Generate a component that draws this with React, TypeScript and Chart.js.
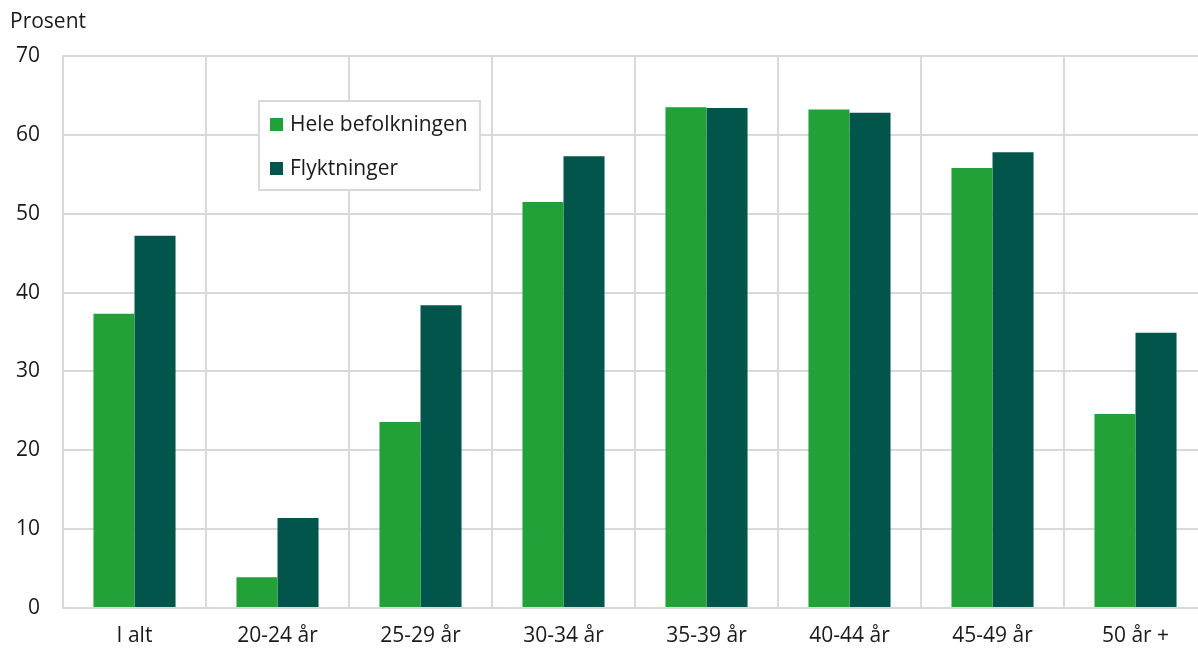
import React, { useEffect, useRef } from "react";
import { Chart, registerables } from "chart.js";

Chart.register(...registerables);

const categories = ["I alt", "20-24 år", "25-29 år", "30-34 år", "35-39 år", "40-44 år", "45-49 år", "50 år +"];
const heleBefolkningen = [37.3, 3.9, 23.6, 51.5, 63.5, 63.2, 55.8, 24.6];
const flyktninger = [47.2, 11.4, 38.4, 57.3, 63.4, 62.8, 57.8, 34.9];
const seriesLabels = ["Hele befolkningen", "Flyktninger"];
const seriesColors = ["#21A138", "#02554A"];
const yAxisTitle = "Prosent";

const FONT = "'Open Sans', 'Noto Sans', sans-serif";
const TEXT = "#1a1a1a";
const GRID = "#d9d9d9";

const overlayPlugin = {
  id: "overlay",
  afterDraw(chart: any) {
    const ctx = chart.ctx;
    ctx.save();
    // axis title
    ctx.font = `21px ${FONT}`;
    ctx.fillStyle = TEXT;
    ctx.textAlign = "left";
    ctx.textBaseline = "middle";
    ctx.fillText(yAxisTitle, 10, 22.5);
    // legend box
    const bx = 259, by = 101, bw = 221, bh = 89;
    ctx.fillStyle = "#ffffff";
    ctx.fillRect(bx, by, bw, bh);
    ctx.strokeStyle = GRID;
    ctx.lineWidth = 2;
    ctx.strokeRect(bx, by, bw, bh);
    seriesLabels.forEach((lab, i) => {
      const cy = 124.5 + i * 44;
      ctx.fillStyle = seriesColors[i];
      ctx.fillRect(270, cy - 6.5, 13, 13);
      ctx.fillStyle = TEXT;
      ctx.font = `21px ${FONT}`;
      ctx.textAlign = "left";
      ctx.textBaseline = "middle";
      ctx.fillText(lab, 290, cy + 1);
    });
    ctx.restore();
  },
};

export default function App() {
  const ref = useRef<HTMLCanvasElement | null>(null);
  useEffect(() => {
    if (!ref.current) return;
    const chart = new Chart(ref.current, {
      type: "bar",
      data: {
        labels: categories,
        datasets: [
          {
            label: seriesLabels[0],
            data: heleBefolkningen,
            backgroundColor: seriesColors[0],
            borderWidth: 0,
            categoryPercentage: 0.574,
            barPercentage: 1,
          },
          {
            label: seriesLabels[1],
            data: flyktninger,
            backgroundColor: seriesColors[1],
            borderWidth: 0,
            categoryPercentage: 0.574,
            barPercentage: 1,
          },
        ],
      },
      options: {
        responsive: false,
        animation: false,
        devicePixelRatio: 1,
        layout: { padding: { top: 56, right: 3, left: 0, bottom: 0 } },
        plugins: {
          legend: { display: false },
          tooltip: { enabled: false },
          title: { display: false },
        },
        scales: {
          x: {
            grid: { color: GRID, lineWidth: 2, drawTicks: false, offset: true },
            border: { color: GRID, width: 2 },
            ticks: {
              color: TEXT,
              font: { family: FONT, size: 21 },
              padding: 15,
              maxRotation: 0,
              autoSkip: false,
            },
            afterFit(scale: any) {
              scale.height = 41;
            },
          },
          y: {
            min: 0,
            max: 70,
            grid: { color: GRID, lineWidth: 2, drawTicks: false },
            border: { color: GRID, width: 2 },
            ticks: {
              stepSize: 10,
              color: TEXT,
              font: { family: FONT, size: 21 },
              padding: 23,
            },
            afterFit(scale: any) {
              scale.width = 63;
            },
          },
        },
      },
      plugins: [overlayPlugin],
    });
    return () => chart.destroy();
  }, []);
  return (
    <div style={{ position: "absolute", left: 0, top: 0, width: 1198, height: 649, overflow: "hidden", background: "#fff" }}>
      <canvas ref={ref} width={1210} height={649} style={{ display: "block", width: 1210, height: 649 }} />
    </div>
  );
}
